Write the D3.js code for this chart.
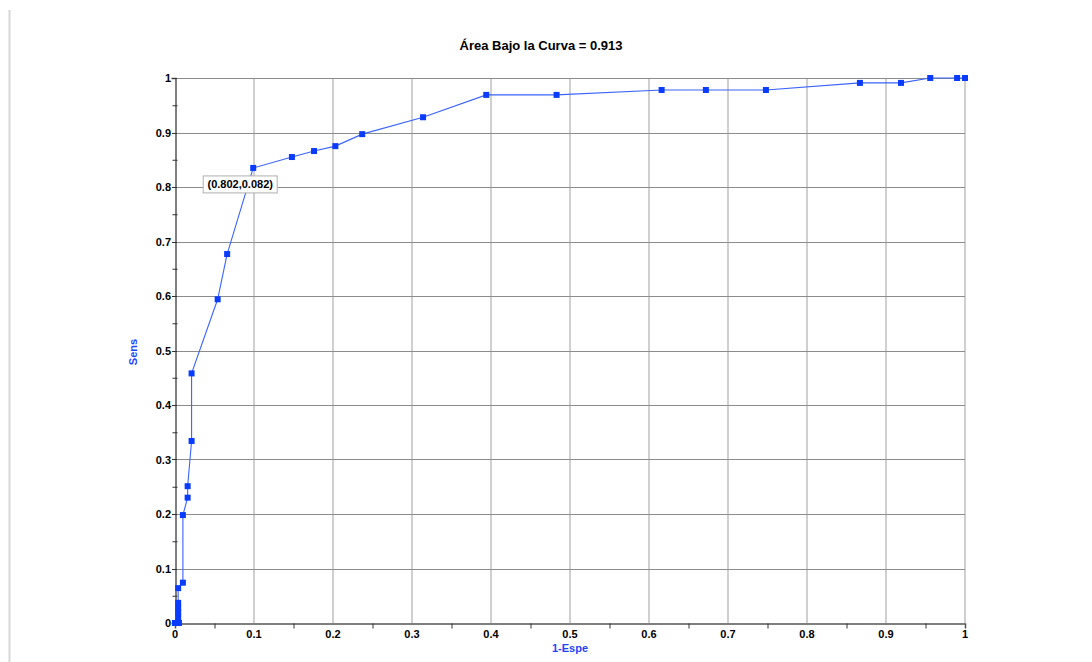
<!DOCTYPE html>
<html>
<head>
<meta charset="utf-8">
<script src="https://cdn.jsdelivr.net/npm/d3@7"></script>
<style>
  html, body { margin: 0; padding: 0; background: #ffffff; }
  svg { display: block; font-family: Arial, "Liberation Sans", sans-serif; }
</style>
</head>
<body>
<svg id="chart" width="1092" height="662"></svg>
<script>
// ROC curve points: false-positive rate (1-Especificidad) and sensitivity
const fpr = [0, 0.002, 0.005, 0.004, 0.004, 0.004, 0.004, 0.004, 0.010, 0.010,
             0.016, 0.016, 0.021, 0.021, 0.054, 0.066, 0.099, 0.148, 0.176, 0.203,
             0.237, 0.314, 0.394, 0.483, 0.616, 0.672, 0.748, 0.867, 0.919, 0.956,
             0.990, 1.0];
const sens = [0, 0, 0, 0.011, 0.020, 0.028, 0.037, 0.064, 0.074, 0.198,
              0.230, 0.251, 0.334, 0.458, 0.594, 0.677, 0.835, 0.855, 0.866, 0.875,
              0.897, 0.928, 0.969, 0.969, 0.978, 0.978, 0.978, 0.991, 0.991, 1.0,
              1.0, 1.0];
const tickValues = [0, 0.1, 0.2, 0.3, 0.4, 0.5, 0.6, 0.7, 0.8, 0.9, 1];
const tickLabels = ["0", "0.1", "0.2", "0.3", "0.4", "0.5", "0.6", "0.7", "0.8", "0.9", "1"];
const minorTicks = [0.05, 0.15, 0.25, 0.35, 0.45, 0.55, 0.65, 0.75, 0.85, 0.95];
const titleText = "Área Bajo la Curva = 0.913";
const xLabel = "1-Espe";
const yLabel = "Sens";
const calloutText = "(0.802,0.082)";
const calloutAt = [0.099, 0.835];

const svg = d3.select("#chart");
const x = d3.scaleLinear().domain([0, 1]).range([175, 965]);
const y = d3.scaleLinear().domain([0, 1]).range([623, 78]);

// page frame line on the left
svg.append("line").attr("x1", 9.5).attr("x2", 9.5).attr("y1", 10).attr("y2", 662)
  .attr("stroke", "#d6d6d6").attr("stroke-width", 2);

// vertical grid
svg.append("g").selectAll("line").data(tickValues.slice(1)).join("line")
  .attr("x1", d => x(d)).attr("x2", d => x(d))
  .attr("y1", y(1)).attr("y2", y(0))
  .attr("stroke", "#c4c4c4").attr("stroke-width", 1.6);

// horizontal grid
svg.append("g").selectAll("line").data(tickValues.slice(1)).join("line")
  .attr("x1", x(0)).attr("x2", x(1))
  .attr("y1", d => Math.round(y(d)) + 0.5).attr("y2", d => Math.round(y(d)) + 0.5)
  .attr("stroke", "#8c8c8c").attr("stroke-width", 1);

// axes
const xAxis = d3.axisBottom(x).tickValues(minorTicks).tickSize(5).tickFormat("");
const gx = svg.append("g").attr("transform", `translate(0,${y(0) + 0.5})`).call(xAxis);
gx.select(".domain").attr("stroke", "#555").attr("stroke-width", 1.5);
gx.selectAll(".tick line").attr("stroke", "#333");

const yAxis = d3.axisLeft(y).tickValues(minorTicks).tickSize(4).tickFormat("");
const gy = svg.append("g").attr("transform", `translate(${x(0) + 0.5},0)`).call(yAxis);
gy.select(".domain").attr("stroke", "#555").attr("stroke-width", 1.5);
gy.selectAll(".tick line").attr("stroke", "#333").attr("x2", 2).attr("x1", -3);

// major tick marks at labelled values
svg.append("g").selectAll("line").data(tickValues).join("line")
  .attr("x1", x(0) - 3).attr("x2", x(0) + 2)
  .attr("y1", d => Math.round(y(d)) + 0.5).attr("y2", d => Math.round(y(d)) + 0.5)
  .attr("stroke", "#333");

// tick labels
svg.append("g").selectAll("text").data(tickValues).join("text")
  .attr("x", x(0) - 4).attr("y", d => y(d) + 4)
  .attr("text-anchor", "end").attr("font-size", 11).attr("font-weight", "bold")
  .attr("fill", "#000").text((d, i) => tickLabels[i]);
svg.append("g").selectAll("text").data(tickValues).join("text")
  .attr("x", d => x(d)).attr("y", y(0) + 15)
  .attr("text-anchor", "middle").attr("font-size", 11).attr("font-weight", "bold")
  .attr("fill", "#000").text((d, i) => tickLabels[i]);

// title and axis titles
svg.append("text").attr("x", 541).attr("y", 50).attr("text-anchor", "middle")
  .attr("font-size", 13).attr("font-weight", "bold").attr("fill", "#000").text(titleText);
svg.append("text").attr("x", 570).attr("y", 652).attr("text-anchor", "middle")
  .attr("font-size", 11).attr("font-weight", "bold").attr("fill", "#1f44ff").text(xLabel);
svg.append("text").attr("transform", "translate(137,352) rotate(-90)").attr("text-anchor", "middle")
  .attr("font-size", 11).attr("font-weight", "bold").attr("fill", "#1f44ff").text(yLabel);

// curve
const pts = fpr.map((v, i) => [v, sens[i]]);
svg.append("path").datum(pts)
  .attr("d", d3.line().x(d => x(d[0])).y(d => y(d[1])))
  .attr("fill", "none").attr("stroke", "#3a63ff").attr("stroke-width", 1.1);

svg.append("g").selectAll("rect").data(pts).join("rect")
  .attr("x", d => x(d[0]) - 3).attr("y", d => y(d[1]) - 3)
  .attr("width", 6).attr("height", 6).attr("fill", "#0a3cff");

// callout label for the selected point
const cx = x(calloutAt[0]) - 50, cy = y(calloutAt[1]) + 8;
svg.append("rect").attr("x", cx).attr("y", cy).attr("width", 74).attr("height", 17)
  .attr("fill", "#fff").attr("stroke", "#b0b0b0");
svg.append("text").attr("x", cx + 37).attr("y", cy + 12.5).attr("text-anchor", "middle")
  .attr("font-size", 11).attr("font-weight", "bold").attr("fill", "#000").text(calloutText);
</script>
</body>
</html>
